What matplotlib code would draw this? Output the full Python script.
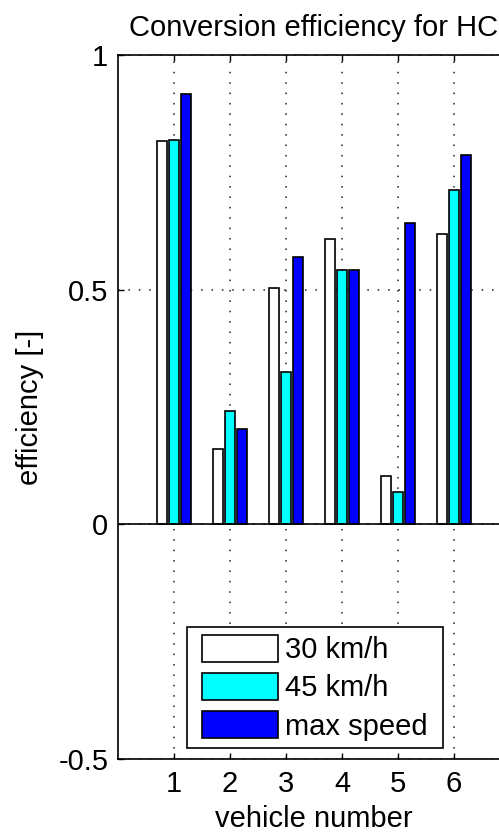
import numpy as np
import matplotlib.pyplot as plt

plt.rcParams['font.family'] = ['Liberation Sans', 'DejaVu Sans']

# data
vehicles = [1, 2, 3, 4, 5, 6]
eff_30 = [0.817, 0.160, 0.504, 0.609, 0.103, 0.618]
eff_45 = [0.820, 0.241, 0.325, 0.542, 0.070, 0.712]
eff_max = [0.918, 0.204, 0.569, 0.542, 0.642, 0.788]
labels = ['30 km/h', '45 km/h', 'max speed']
colors = ['white', 'cyan', 'blue']

fig = plt.figure(figsize=(4.99, 8.33), dpi=100)
# axes runs past the right edge like the cropped original
ax = fig.add_axes([0.2365, 0.0888, 0.7856, 0.8451])

x = np.array(vehicles, dtype=float)
w = 0.18
offs = [-0.222, 0.0, 0.222]
for vals, off, c, lab in zip([eff_30, eff_45, eff_max], offs, colors, labels):
    ax.bar(x + off, vals, width=w, color=c, edgecolor='black', linewidth=1.2,
           label=lab, zorder=3)

ax.axhline(0, color='black', linewidth=1.2, zorder=4)

ax.set_xlim(0, 7)
ax.set_ylim(-0.5, 1)
ax.set_xticks(vehicles)
ax.set_yticks([-0.5, 0, 0.5, 1])
ax.set_yticklabels(['-0.5', '0', '0.5', '1'])

ax.grid(True, color='#222222', linewidth=1.1, linestyle=(0, (1.0, 5.8)), zorder=0)
ax.set_axisbelow(True)

ax.tick_params(direction='in', length=4.5, width=1, labelsize=21,
               top=True, right=True)
ax.tick_params(axis='x', pad=8)
ax.tick_params(axis='y', pad=7)
for s in ax.spines.values():
    s.set_linewidth(1.2)
ax.spines['right'].set_visible(False)  # cut off in the original

ax.set_title('Conversion efficiency for HC', fontsize=21, pad=14)
ax.set_xlabel('vehicle number', fontsize=21, labelpad=5)
ax.set_ylabel('efficiency [-]', fontsize=21, labelpad=10)

leg = ax.legend(loc='lower left', bbox_to_anchor=(0.1964, 0.0156), fontsize=21,
                handlelength=2.6, handleheight=1.06, handletextpad=0.24,
                labelspacing=0.3, borderpad=0.25, borderaxespad=0,
                fancybox=False, framealpha=1)
frame = leg.get_frame()
frame.set_edgecolor('black')
frame.set_linewidth(1.2)
# wider padding left/right than top/bottom
frame.set_boxstyle('square', pad=0.27)
frame.set_mutation_aspect(0.001)

fig.savefig('out.png', dpi=100)
